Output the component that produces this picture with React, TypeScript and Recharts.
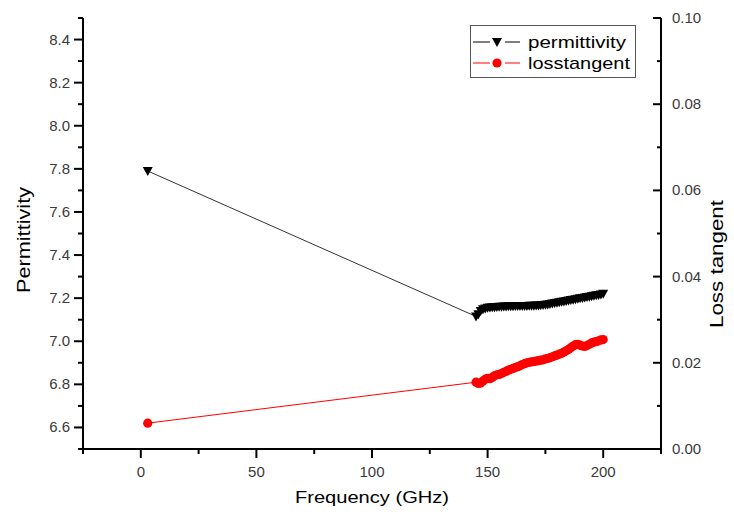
import React from "react";
import {
  ComposedChart,
  Line,
  XAxis,
  YAxis,
  Label,
  Legend
} from "recharts";

// frequency in GHz
const freqs = [
  3,
  145, 146, 147, 148, 149, 150, 151, 152, 153, 154,
  155, 156, 157, 158, 159, 160, 161, 162, 163, 164,
  165, 166, 167, 168, 169, 170, 171, 172, 173, 174,
  175, 176, 177, 178, 179, 180, 181, 182, 183, 184,
  185, 186, 187, 188, 189, 190, 191, 192, 193, 194,
  195, 196, 197, 198, 199, 200
];

const permittivity = [
  7.79,
  7.115, 7.125, 7.14, 7.148, 7.152, 7.155, 7.157, 7.158, 7.158, 7.159,
  7.16, 7.16, 7.161, 7.161, 7.162, 7.162, 7.162, 7.163, 7.163, 7.163,
  7.164, 7.164, 7.164, 7.165, 7.165, 7.165, 7.166, 7.166, 7.167, 7.168,
  7.169, 7.171, 7.173, 7.175, 7.177, 7.179, 7.181, 7.183, 7.185, 7.187,
  7.189, 7.191, 7.193, 7.195, 7.197, 7.199, 7.201, 7.203, 7.205, 7.207,
  7.209, 7.211, 7.213, 7.215, 7.217, 7.22
];

const lossTangent = [
  0.006,
  0.0155, 0.0152, 0.0153, 0.0158, 0.0162, 0.0164, 0.0163, 0.0166, 0.017, 0.0172,
  0.0173, 0.0175, 0.0178, 0.018, 0.0183, 0.0185, 0.0187, 0.0189, 0.0191, 0.0193,
  0.0196, 0.0198, 0.02, 0.0201, 0.0202, 0.0203, 0.0204, 0.0205, 0.0206, 0.0207,
  0.0209, 0.021, 0.0212, 0.0214, 0.0216, 0.0218, 0.022, 0.0222, 0.0225, 0.0228,
  0.0231, 0.0235, 0.0239, 0.0242, 0.0243, 0.0241, 0.0239, 0.0238, 0.024, 0.0243,
  0.0246, 0.0248, 0.0249, 0.0251, 0.0253, 0.0254
];

const xTicks = [-25, 0, 25, 50, 75, 100, 125, 150, 175, 200, 225];
const leftTicks = [
  6.5, 6.6, 6.7, 6.8, 6.9, 7.0, 7.1, 7.2, 7.3, 7.4, 7.5,
  7.6, 7.7, 7.8, 7.9, 8.0, 8.1, 8.2, 8.3, 8.4, 8.5
];
const rightTicks = [0, 0.01, 0.02, 0.03, 0.04, 0.05, 0.06, 0.07, 0.08, 0.09, 0.1];

const data = freqs.map((f, i) => ({
  f,
  perm: permittivity[i],
  loss: lossTangent[i]
}));

const FONT = "'Liberation Sans', Arial, sans-serif";
const TICK_COLOR = "#3a3a3a";

const XTick = (props: any) => {
  const { x, y, payload } = props;
  const major = payload.value % 50 === 0;
  return (
    <g>
      <line x1={x} x2={x} y1={y} y2={y + (major ? 9 : 5)} stroke="#000" strokeWidth={2} />
      {major && (
        <text x={x} y={y + 28} textAnchor="middle" fontSize={15} fontFamily={FONT} fill={TICK_COLOR}>
          {payload.value}
        </text>
      )}
    </g>
  );
};

const LeftTick = (props: any) => {
  const { x, y, payload } = props;
  const major = Math.round(payload.value * 10) % 2 === 0;
  return (
    <g>
      <line x1={x} x2={x - (major ? 9 : 5)} y1={y} y2={y} stroke="#000" strokeWidth={2} />
      {major && (
        <text x={x - 13} y={y + 5} textAnchor="end" fontSize={15} fontFamily={FONT} fill={TICK_COLOR}>
          {payload.value.toFixed(1)}
        </text>
      )}
    </g>
  );
};

const RightTick = (props: any) => {
  const { x, y, payload } = props;
  const major = Math.round(payload.value * 100) % 2 === 0;
  return (
    <g>
      <line x1={x} x2={x - (major ? 8 : 4)} y1={y} y2={y} stroke="#000" strokeWidth={2} />
      {major && (
        <text x={x + 11} y={y + 5} textAnchor="start" fontSize={15} fontFamily={FONT} fill={TICK_COLOR}>
          {payload.value.toFixed(2)}
        </text>
      )}
    </g>
  );
};

const TriangleDot = (props: any) => {
  const { cx, cy, index } = props;
  if (cx == null || cy == null) return <g key={`t-${index}`} />;
  return (
    <path
      key={`t-${index}`}
      d={`M${cx - 5},${cy - 4} L${cx + 5},${cy - 4} L${cx},${cy + 5} Z`}
      fill="#000"
    />
  );
};

const CircleDot = (props: any) => {
  const { cx, cy, index } = props;
  if (cx == null || cy == null) return <g key={`c-${index}`} />;
  return <circle key={`c-${index}`} cx={cx} cy={cy} r={4.6} fill="#ff0000" />;
};

const renderLegend = () => (
  <svg width={166} height={53} style={{ display: "block" }}>
    <rect x={0.5} y={0.5} width={165} height={52} fill="#fff" stroke="#555" />
    <line x1={3} x2={20} y1={17} y2={17} stroke="#000" />
    <line x1={35} x2={50} y1={17} y2={17} stroke="#000" />
    <path d="M22,13 L32,13 L27,22 Z" fill="#000" />
    <text x={58} y={23} fontSize={17} fontFamily={FONT} fill="#000" textLength={98} lengthAdjust="spacingAndGlyphs">
      permittivity
    </text>
    <line x1={3} x2={20} y1={38} y2={38} stroke="#ff0000" />
    <line x1={35} x2={50} y1={38} y2={38} stroke="#ff0000" />
    <circle cx={27} cy={38} r={4.6} fill="#ff0000" />
    <text x={58} y={44} fontSize={17} fontFamily={FONT} fill="#000" textLength={102} lengthAdjust="spacingAndGlyphs">
      losstangent
    </text>
  </svg>
);

export default function App() {
  return (
    <div style={{ position: "absolute", left: 0, top: 0, width: 734, height: 514, background: "#fff" }}>
      <ComposedChart
        width={734}
        height={514}
        data={data}
        margin={{ top: 18, right: 0, bottom: 0, left: 0 }}
      >
        <XAxis
          dataKey="f"
          type="number"
          domain={[-25, 225]}
          ticks={xTicks}
          interval={0}
          tickSize={0}
          tickMargin={0}
          tick={(p: any) => <XTick {...p} />}
          axisLine={{ stroke: "#000", strokeWidth: 2 }}
          height={65}
        >
          <Label
            content={() => (
              <text x={372} y={503} textAnchor="middle" fontSize={17} fontFamily={FONT} fill="#000" textLength={154} lengthAdjust="spacingAndGlyphs">
                Frequency (GHz)
              </text>
            )}
          />
        </XAxis>

        <YAxis
          yAxisId="left"
          domain={[6.5, 8.5]}
          ticks={leftTicks}
          interval={0}
          tickSize={0}
          tickMargin={0}
          tick={(p: any) => <LeftTick {...p} />}
          axisLine={{ stroke: "#000", strokeWidth: 2 }}
          width={83}
        >
          <Label
            content={() => (
              <text x={30} y={240} transform="rotate(-90 30 240)" textAnchor="middle" fontSize={18} fontFamily={FONT} fill="#000" textLength={106} lengthAdjust="spacingAndGlyphs">
                Permittivity
              </text>
            )}
          />
        </YAxis>

        <YAxis
          yAxisId="right"
          orientation="right"
          domain={[0, 0.1]}
          ticks={rightTicks}
          interval={0}
          tickSize={0}
          tickMargin={0}
          tick={(p: any) => <RightTick {...p} />}
          axisLine={{ stroke: "#000", strokeWidth: 2 }}
          width={73}
        >
          <Label
            content={() => (
              <text x={723} y={264} transform="rotate(-90 723 264)" textAnchor="middle" fontSize={18} fontFamily={FONT} fill="#000" textLength={128} lengthAdjust="spacingAndGlyphs">
                Loss tangent
              </text>
            )}
          />
        </YAxis>

        <Legend
          layout="vertical"
          align="center"
          verticalAlign="middle"
          content={renderLegend}
          wrapperStyle={{ left: 470, top: 25, width: 166, height: 53 }}
        />

        <Line
          yAxisId="right"
          dataKey="loss"
          stroke="#ff0000"
          strokeWidth={1}
          dot={(p: any) => <CircleDot {...p} />}
          activeDot={false}
          isAnimationActive={false}
        />
        <Line
          yAxisId="left"
          dataKey="perm"
          stroke="#333"
          strokeWidth={1}
          dot={(p: any) => <TriangleDot {...p} />}
          activeDot={false}
          isAnimationActive={false}
        />
      </ComposedChart>
    </div>
  );
}
